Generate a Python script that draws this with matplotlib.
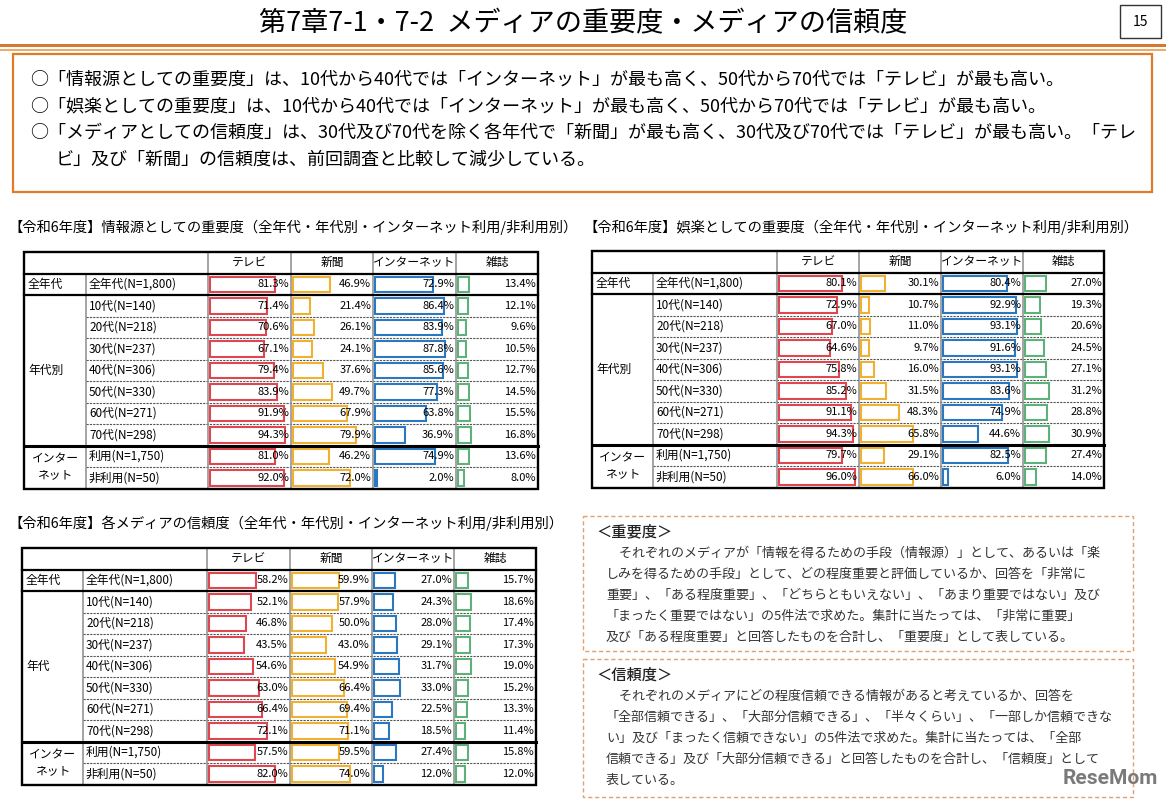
# Media importance / trust tables (slide 15) recreated with matplotlib
import matplotlib.pyplot as plt
from matplotlib.patches import Rectangle

plt.rcParams['font.family'] = ['Noto Sans CJK JP', 'DejaVu Sans']

# ===== Data =====
media = ["テレビ", "新聞", "インターネット", "雑誌"]
row_labels = ["全年代(N=1,800)", "10代(N=140)", "20代(N=218)", "30代(N=237)", "40代(N=306)",
              "50代(N=330)", "60代(N=271)", "70代(N=298)", "利用(N=1,750)", "非利用(N=50)"]

# information source importance
info_tv = [81.3, 71.4, 70.6, 67.1, 79.4, 83.9, 91.9, 94.3, 81.0, 92.0]
info_news = [46.9, 21.4, 26.1, 24.1, 37.6, 49.7, 67.9, 79.9, 46.2, 72.0]
info_net = [72.9, 86.4, 83.9, 87.8, 85.6, 77.3, 63.8, 36.9, 74.9, 2.0]
info_mag = [13.4, 12.1, 9.6, 10.5, 12.7, 14.5, 15.5, 16.8, 13.6, 8.0]

# entertainment importance
fun_tv = [80.1, 72.9, 67.0, 64.6, 75.8, 85.2, 91.1, 94.3, 79.7, 96.0]
fun_news = [30.1, 10.7, 11.0, 9.7, 16.0, 31.5, 48.3, 65.8, 29.1, 66.0]
fun_net = [80.4, 92.9, 93.1, 91.6, 93.1, 83.6, 74.9, 44.6, 82.5, 6.0]
fun_mag = [27.0, 19.3, 20.6, 24.5, 27.1, 31.2, 28.8, 30.9, 27.4, 14.0]

# trust
trust_tv = [58.2, 52.1, 46.8, 43.5, 54.6, 63.0, 66.4, 72.1, 57.5, 82.0]
trust_news = [59.9, 57.9, 50.0, 43.0, 54.9, 66.4, 69.4, 71.1, 59.5, 74.0]
trust_net = [27.0, 24.3, 28.0, 29.1, 31.7, 33.0, 22.5, 18.5, 27.4, 12.0]
trust_mag = [15.7, 18.6, 17.4, 17.3, 19.0, 15.2, 13.3, 11.4, 15.8, 12.0]

bar_colors = ["#e0464f", "#f0b030", "#2a78c2", "#5db27a"]

title = "第7章7-1・7-2  メディアの重要度・メディアの信頼度"
summary = [
    "○「情報源としての重要度」は、10代から40代では「インターネット」が最も高く、50代から70代では「テレビ」が最も高い。",
    "○「娯楽としての重要度」は、10代から40代では「インターネット」が最も高く、50代から70代では「テレビ」が最も高い。",
    "○「メディアとしての信頼度」は、30代及び70代を除く各年代で「新聞」が最も高く、30代及び70代では「テレビ」が最も高い。「テレ",
    "ビ」及び「新聞」の信頼度は、前回調査と比較して減少している。",
]
note1 = [
    "＜重要度＞",
    "　それぞれのメディアが「情報を得るための手段（情報源）」として、あるいは「楽",
    "しみを得るための手段」として、どの程度重要と評価しているか、回答を「非常に",
    "重要」、「ある程度重要」、「どちらともいえない」、「あまり重要ではない」及び",
    "「まったく重要ではない」の5件法で求めた。集計に当たっては、「非常に重要」",
    "及び「ある程度重要」と回答したものを合計し、「重要度」として表している。",
]
note2 = [
    "＜信頼度＞",
    "　それぞれのメディアにどの程度信頼できる情報があると考えているか、回答を",
    "「全部信頼できる」、「大部分信頼できる」、「半々くらい」、「一部しか信頼できな",
    "い」及び「まったく信頼できない」の5件法で求めた。集計に当たっては、「全部",
    "信頼できる」及び「大部分信頼できる」と回答したものを合計し、「信頼度」として",
    "表している。",
]

# ===== Figure in pixel coordinates =====
fig = plt.figure(figsize=(11.66, 8.10), dpi=100)
ax = fig.add_axes([0, 0, 1, 1])
ax.set_xlim(0, 1166)
ax.set_ylim(810, 0)
ax.axis('off')


def draw_table(xs, top, rh, values, groups, caption, cap_x, cap_y):
    n = len(row_labels)
    bottom = top + rh * (n + 1)
    ax.text(cap_x, cap_y, caption, ha='left', va='center', fontsize=10.3)

    # header texts
    for j, name in enumerate(media):
        ax.text((xs[j + 2] + xs[j + 3]) / 2, top + rh / 2, name, ha='center', va='center', fontsize=8.5)

    # rows with bars and values
    for i, lab in enumerate(row_labels):
        y0 = top + rh * (i + 1)
        ax.text(xs[1] + 3, y0 + rh / 2, lab, ha='left', va='center', fontsize=8.5)
        for j in range(4):
            v = values[j][i]
            cx0, cx1 = xs[j + 2], xs[j + 3]
            w = (cx1 - cx0 - 3) * v / 100
            ax.add_patch(Rectangle((cx0 + 2, y0 + 3), w, rh - 6, facecolor='white',
                                   edgecolor=bar_colors[j], lw=1.5, zorder=2))
            ax.text(cx1 - 2, y0 + rh / 2, f"{v:.1f}%", ha='right', va='center', fontsize=8, zorder=3)

    # group labels
    for name, r0, r1 in groups:
        ya = top + rh * (r0 + 1)
        yb = top + rh * (r1 + 1)
        if "\n" in name:
            ax.text((xs[0] + xs[1]) / 2, (ya + yb) / 2, name, ha='center', va='center',
                    fontsize=8.5, linespacing=1.3)
        else:
            ax.text(xs[0] + 4, (ya + yb) / 2, name, ha='left', va='center', fontsize=8.5)

    # dashed lines between rows inside a group
    for name, r0, r1 in groups:
        for r in range(r0 + 1, r1):
            y = top + rh * (r + 1)
            ax.plot([xs[1], xs[6]], [y, y], color='#555555', lw=0.8, ls=(0, (2, 1)), zorder=4)

    # vertical separators
    ax.plot([xs[1], xs[1]], [top + rh, bottom], color='#8c8c8c', lw=1.1, zorder=4)
    for x in xs[2:6]:
        ax.plot([x, x], [top, bottom], color='#8c8c8c', lw=1.1, zorder=4)

    # thick lines
    for name, r0, r1 in groups:
        y = top + rh * (r0 + 1)
        ax.plot([xs[0], xs[6]], [y, y], color='black', lw=2.2 if r0 == 8 else 1.6, zorder=5)
    ax.add_patch(Rectangle((xs[0], top), xs[6] - xs[0], bottom - top, fill=False,
                           edgecolor='black', lw=1.7, zorder=5))


# ===== Title area =====
ax.text(583, 24, title, ha='center', va='center', fontsize=19.5)
ax.add_patch(Rectangle((1120, 5), 41, 33, fill=False, edgecolor='#333333', lw=1.0))
ax.text(1140.5, 22, "15", ha='center', va='center', fontsize=10)
ax.plot([0, 1166], [45, 45], color='#d47a30', lw=2.2)
ax.plot([0, 1166], [50, 50], color='#e8923c', lw=1.1)

# summary box
ax.add_patch(Rectangle((13, 54), 1139, 138, fill=False, edgecolor='#e07b28', lw=1.6))
for k, line in enumerate(summary):
    ax.text(30 if k < 3 else 56, 80 + k * 26.5, line, ha='left', va='center', fontsize=13.0)

# ===== Tables =====
draw_table([24, 86, 208, 291, 373, 456, 538], 252, 21.5,
           [info_tv, info_news, info_net, info_mag],
           [("全年代", 0, 1), ("年代別", 1, 8), ("インター\nネット", 8, 10)],
           "【令和6年度】情報源としての重要度（全年代・年代別・インターネット利用/非利用別）", 8, 227)
draw_table([592, 653, 777, 859, 941, 1023, 1104], 251, 21.5,
           [fun_tv, fun_news, fun_net, fun_mag],
           [("全年代", 0, 1), ("年代別", 1, 8), ("インター\nネット", 8, 10)],
           "【令和6年度】娯楽としての重要度（全年代・年代別・インターネット利用/非利用別）", 583, 227)
draw_table([22, 83, 207, 290, 372, 454, 536], 548, 21.5,
           [trust_tv, trust_news, trust_net, trust_mag],
           [("全年代", 0, 1), ("年代", 1, 8), ("インター\nネット", 8, 10)],
           "【令和6年度】各メディアの信頼度（全年代・年代別・インターネット利用/非利用別）", 8, 523)

# ===== Notes =====
for (y_top, y_bot, lines) in [(516, 651, note1), (659, 797, note2)]:
    ax.add_patch(Rectangle((583, y_top), 550, y_bot - y_top, fill=False, edgecolor='#e0a070',
                           lw=1.0, ls=(0, (3, 2))))
    for k, line in enumerate(lines):
        if k == 0:
            # heading of each note
            ax.text(596, y_top + 16, line, ha='left', va='center', fontsize=11, color='#222222',
                    weight='medium')
        else:
            ax.text(606, y_top + 16 + k * 21, line, ha='left', va='center', fontsize=9.4,
                    color='#333333')

ax.text(1110, 779, "ReseMom", ha='center', va='center', fontsize=15, weight='bold',
        color='#7a7a7a', family=['Roboto', 'DejaVu Sans'])

fig.savefig("out.png", dpi=100)
